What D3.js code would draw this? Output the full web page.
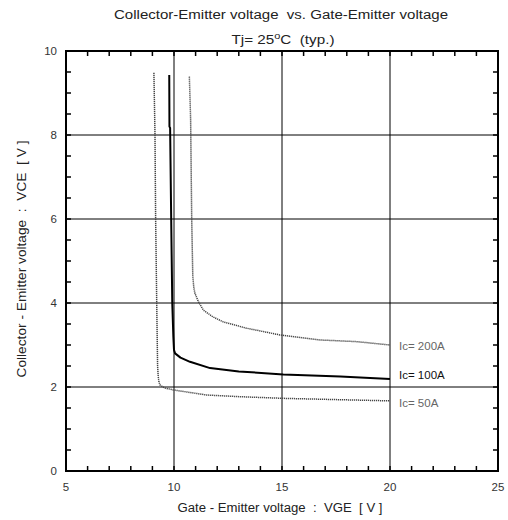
<!DOCTYPE html>
<html>
<head>
<meta charset="utf-8">
<script src="https://cdn.jsdelivr.net/npm/d3@7"></script>
<style>
html,body{margin:0;padding:0;background:#fff;}
text{font-family:"Liberation Sans",Arial,sans-serif;white-space:pre;}
</style>
</head>
<body>
<svg id="chart" width="508" height="520"></svg>
<script>
const titleText = "Collector-Emitter voltage  vs. Gate-Emitter voltage";
const xTitle = "Gate - Emitter voltage  :  VGE  [ V ]";
const yTitle = "Collector - Emitter voltage  :  VCE  [ V ]";
const xTicks = [5, 10, 15, 20, 25];
const yTicks = [0, 2, 4, 6, 8, 10];
const xGrid = [10, 15, 20];
const yGrid = [2, 4, 6, 8];

const seriesNames = ["Ic= 200A", "Ic= 100A", "Ic= 50A"];
const vge200 = [10.71, 10.77, 10.82, 10.87, 10.92, 10.97, 11.13, 11.36, 11.8, 12.28, 13.36, 14.9, 16.76, 18.46, 20];
const vce200 = [9.39, 8.36, 6.0, 4.63, 4.35, 4.23, 4.03, 3.83, 3.67, 3.55, 3.40, 3.24, 3.12, 3.08, 3.0];
const vge100 = [9.78, 9.79, 9.82, 9.87, 9.92, 9.97, 10.0, 10.05, 10.3, 10.74, 11.67, 13.0, 15.06, 17.7, 20];
const vce100 = [9.43, 8.2, 8.17, 6.0, 4.0, 3.2, 2.88, 2.8, 2.7, 2.6, 2.45, 2.37, 2.30, 2.25, 2.19];
const vge50 = [9.07, 9.12, 9.15, 9.20, 9.24, 9.27, 9.30, 9.35, 9.55, 9.97, 11.5, 13.0, 15.06, 17.5, 20];
const vce50 = [9.48, 8.0, 6.0, 4.0, 2.5, 2.25, 2.13, 2.05, 1.98, 1.93, 1.81, 1.77, 1.73, 1.70, 1.67];

const svg = d3.select("#chart");
const L = 66, R = 498, T = 51, B = 471;
const x = d3.scaleLinear().domain([5, 25]).range([L, R]);
const y = d3.scaleLinear().domain([0, 10]).range([B, T]);

// grid
svg.append("g").selectAll("line").data(xGrid).join("line")
  .attr("x1", d => x(d)).attr("x2", d => x(d)).attr("y1", T).attr("y2", B)
  .attr("stroke", "#000").attr("stroke-width", 1);
svg.append("g").selectAll("line").data(yGrid).join("line")
  .attr("x1", L).attr("x2", R).attr("y1", d => y(d)).attr("y2", d => y(d))
  .attr("stroke", "#000").attr("stroke-width", 1);

// minor ticks (inward) on all four sides
const xMinor = d3.range(5, 25.01, 1);
const yMinor = d3.range(0, 10.01, 0.5);
const tl = 5;
const tg = svg.append("g").attr("stroke", "#000").attr("stroke-width", 1.5);
tg.selectAll(".xb").data(xMinor).join("line").attr("class","xb")
  .attr("x1", d => x(d)).attr("x2", d => x(d)).attr("y1", B).attr("y2", B - tl);
tg.selectAll(".xt").data(xMinor).join("line").attr("class","xt")
  .attr("x1", d => x(d)).attr("x2", d => x(d)).attr("y1", T).attr("y2", T + tl);
tg.selectAll(".yl").data(yMinor).join("line").attr("class","yl")
  .attr("x1", L).attr("x2", L + tl).attr("y1", d => y(d)).attr("y2", d => y(d));
tg.selectAll(".yr").data(yMinor).join("line").attr("class","yr")
  .attr("x1", R).attr("x2", R - tl).attr("y1", d => y(d)).attr("y2", d => y(d));

// frame
svg.append("rect").attr("x", L).attr("y", T).attr("width", R - L).attr("height", B - T)
  .attr("fill", "none").attr("stroke", "#000").attr("stroke-width", 2);

// tick labels
svg.append("g").selectAll("text").data(xTicks).join("text")
  .attr("x", d => x(d)).attr("y", 491).attr("text-anchor", "middle")
  .attr("font-size", 11.5).attr("fill", "#333").text(d => d);
svg.append("g").selectAll("text").data(yTicks).join("text")
  .attr("x", 57).attr("y", d => y(d) + 4).attr("text-anchor", "end")
  .attr("font-size", 11.5).attr("fill", "#333").text(d => d);

// titles
svg.append("text").attr("x", 281).attr("y", 19).attr("text-anchor", "middle")
  .attr("font-size", 12.5).attr("fill", "#222")
  .attr("textLength", 334).attr("lengthAdjust", "spacingAndGlyphs").text(titleText);
const sub = svg.append("text").attr("x", 283).attr("y", 44).attr("text-anchor", "middle")
  .attr("font-size", 12.5).attr("fill", "#222")
  .attr("textLength", 103).attr("lengthAdjust", "spacingAndGlyphs");
sub.append("tspan").text("Tj= 25");
sub.append("tspan").attr("font-size", 9).attr("dy", -5).text("o");
sub.append("tspan").attr("dy", 5).text("C  (typ.)");
svg.append("text").attr("x", 280).attr("y", 512).attr("text-anchor", "middle")
  .attr("font-size", 12.5).attr("fill", "#222")
  .attr("textLength", 205).attr("lengthAdjust", "spacingAndGlyphs").text(xTitle);
svg.append("text").attr("transform", "translate(26,259) rotate(-90)").attr("text-anchor", "middle")
  .attr("font-size", 12.5).attr("fill", "#222")
  .attr("textLength", 237).attr("lengthAdjust", "spacingAndGlyphs").text(yTitle);

// curves
const line = d3.line().x(d => x(d[0])).y(d => y(d[1]));
const series = [
  {name: seriesNames[0], xs: vge200, ys: vce200, color: "#444", w: 1.5, dash: "1.2,0.8", ly: 350, tc: "#666"},
  {name: seriesNames[1], xs: vge100, ys: vce100, color: "#000", w: 2, dash: null, ly: 379, tc: "#111"},
  {name: seriesNames[2], xs: vge50, ys: vce50, color: "#444", w: 1.5, dash: "1.2,0.8", ly: 407, tc: "#666"}
];
series.forEach(s => {
  const pts = s.xs.map((v, i) => [v, s.ys[i]]);
  const p = svg.append("path").datum(pts).attr("d", line)
    .attr("fill", "none").attr("stroke", s.color).attr("stroke-width", s.w)
    .attr("stroke-linejoin", "round");
  if (s.dash) p.attr("stroke-dasharray", s.dash);
  svg.append("text").attr("x", 399).attr("y", s.ly).attr("font-size", 11.5)
    .attr("fill", s.tc).text(s.name);
});
</script>
</body>
</html>
